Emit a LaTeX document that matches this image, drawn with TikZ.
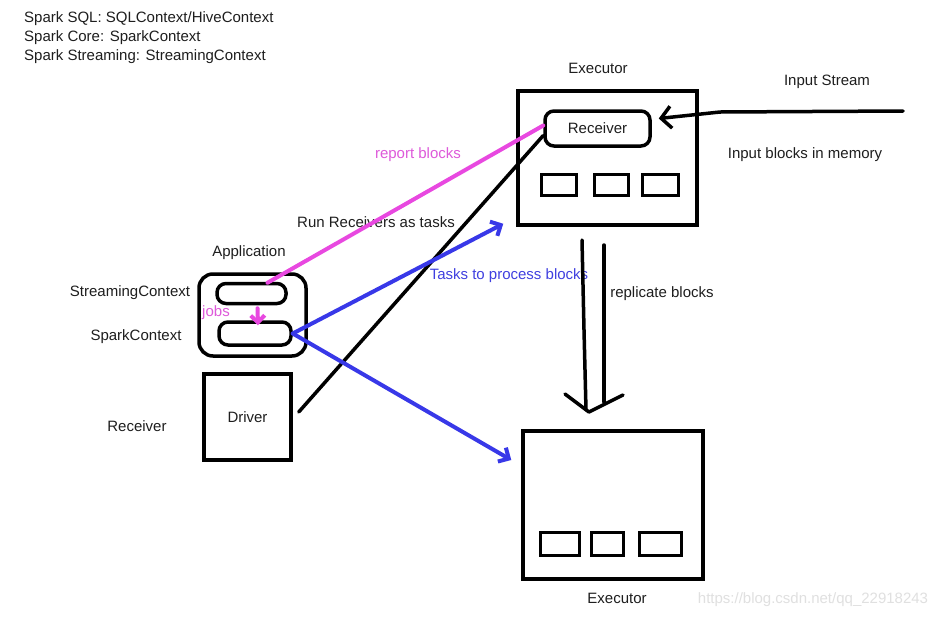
\documentclass[tikz,border=0pt]{standalone}
\usepackage{fontspec}
\setmainfont{Liberation Sans}
\usetikzlibrary{arrows.meta,calc}
\definecolor{pinkc}{RGB}{232,72,224}
\definecolor{pinktext}{RGB}{222,90,218}
\definecolor{bluec}{RGB}{56,56,232}
\definecolor{bluetext}{RGB}{64,64,224}
\definecolor{inkc}{RGB}{30,30,30}
\tikzset{
 lbl/.style={font=\fontsize{15}{18}\selectfont, inner sep=0pt, text=inkc},
 bigbox/.style={draw=black, line width=3.5pt, inner sep=0pt},
 blockbox/.style={draw=black, line width=3pt, inner sep=0pt},
 rbox/.style={draw=black, line width=3.5pt, rounded corners=9pt, inner sep=0pt},
 pinkline/.style={draw=pinkc, line width=4pt, line cap=round},
 blueline/.style={draw=bluec, line width=4pt, line cap=round, -{Straight Barb[length=8pt,width=16pt]}},
 blackline/.style={draw=black, line width=3.5pt, line cap=round},
 blacktip/.style={-{Straight Barb[length=10pt,width=22pt]}}
}
\begin{document}
\begin{tikzpicture}[x=1pt,y=-1pt]
\useasboundingbox (0,0) rectangle (945,619);
\fill[white] (0,0) rectangle (945,619);

% top-left texts
\node[lbl,anchor=west] (t1) at (24,19) {Spark SQL: SQLContext/HiveContext};
\node[lbl,anchor=west] (t2) at (24,38) {Spark Core: SparkContext};
\node[lbl,anchor=west] (t3) at (24,57) {Spark Streaming: StreamingContext};

% executor 1
\node[bigbox,minimum width=179pt,minimum height=134pt] (ex1) at (607.5,158) {};
\node[lbl] (ex1l) at (598,68) {Executor};
\node[rbox,minimum width=105pt,minimum height=35pt,lbl] (recv) at (597.5,128.5) {Receiver};
\node[blockbox,minimum width=35pt,minimum height=21pt] (b11) at (558.5,184.5) {};
\node[blockbox,minimum width=34pt,minimum height=21pt] (b12) at (611,184.5) {};
\node[blockbox,minimum width=36pt,minimum height=21pt] (b13) at (660,184.5) {};

% executor 2
\node[bigbox,minimum width=180pt,minimum height=148pt] (ex2) at (613,505) {};
\node[lbl] (ex2l) at (617,598) {Executor};
\node[blockbox,minimum width=39pt,minimum height=23pt] (b21) at (559.5,543.5) {};
\node[blockbox,minimum width=32pt,minimum height=23pt] (b22) at (607,543.5) {};
\node[blockbox,minimum width=42pt,minimum height=23pt] (b23) at (660,543.5) {};

% application
\node[rbox,rounded corners=14pt,minimum width=107pt,minimum height=82pt] (app) at (252.5,315) {};
\node[lbl] (appl) at (249,253) {Application};
\node[rbox,minimum width=69pt,minimum height=20pt] (sc) at (251.5,293.5) {};
\node[rbox,minimum width=72pt,minimum height=23pt] (spc) at (255,333.5) {};
\node[bigbox,minimum width=87pt,minimum height=86pt,lbl] (drv) at (247.5,417) {Driver};

% left labels
\node[lbl] (l1) at (130,293) {StreamingContext};
\node[lbl] (l2) at (136,337) {SparkContext};
\node[lbl] (l3) at (137,426) {Receiver};

% other labels
\node[lbl] (ins) at (827,82) {Input Stream};
\node[lbl] (inm) at (805,155) {Input blocks in memory};
\node[lbl,text=pinktext] (rep) at (418,155) {report blocks};
\node[lbl] (run) at (376,222) {Run Receivers as tasks};
\node[lbl,text=pinktext] (jobs) at (216,313) {jobs};
\node[lbl,text=bluetext] (tasks) at (509,276) {Tasks to process blocks};
\node[lbl] (repl) at (662,294) {replicate blocks};
\node[lbl,text=black!12] (wm) at (813,600) {https://blog.csdn.net/qq\_22918243};

% connectors
\coordinate (instart) at (903,111);
\draw[blackline,blacktip] (instart) -- (720,112) -- ($(recv.east)+(7,-10)$);

\draw[blackline] ($(drv.east)+(6,-5)$) -- ($(recv.west)+(0,7)$);
\draw[pinkline] ($(sc.north)+(16,1)$) -- ($(recv.west)+(0,-3)$);
\draw[pinkline,-{Straight Barb[length=7pt,width=14pt]}] ($(sc.south)+(6,3)$) -- ($(spc.north)+(3,5)$);
\draw[blueline] (spc.east) -- ($(ex1.south west)+(-13,-3)$);
\draw[blueline] (spc.east) -- ($(ex2.west)+(-10,-45)$);

% replicate arrow
\coordinate (ra1) at (582,240);
\coordinate (ra2) at (604,245);
\coordinate (rtip) at (589,412);
\draw[blackline] (ra1) -- (584,330) -- (586,410);
\draw[blackline] (ra2) -- (604,402);
\draw[blackline,line join=round] (565,394) -- (rtip) -- (623,395);
\end{tikzpicture}
\end{document}
